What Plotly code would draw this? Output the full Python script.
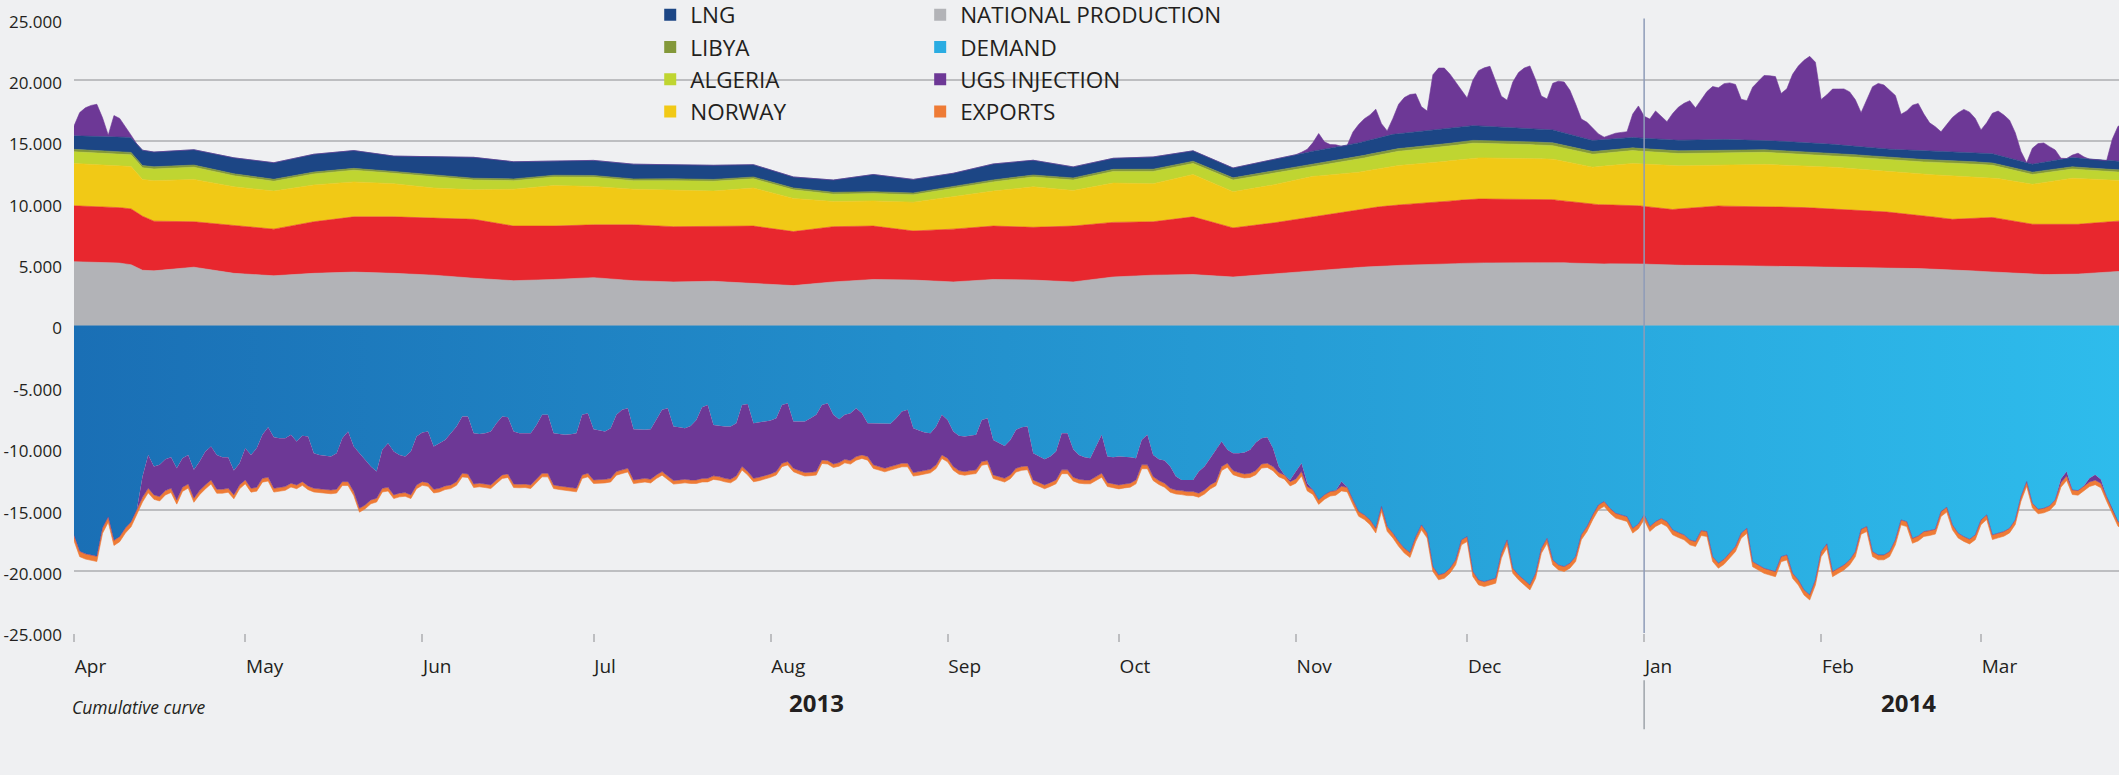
import pandas as pd
import plotly.graph_objects as go

START = pd.Timestamp("2013-04-01")

# ---------------- data ----------------
# smooth supply series, sampled on these days (days since 2013-04-01)
grid_days = [0, 7, 10, 12, 14, 21, 28, 35, 42, 49, 56, 63, 70, 77, 84, 91, 98, 105,
             112, 119, 126, 133, 140, 147, 154, 161, 168, 175, 182, 189, 196, 203,
             210, 217, 224, 231, 238, 245, 252, 259, 266, 273, 280, 287, 294, 301,
             308, 315, 322, 329, 336, 343, 350, 357]

national = [5200, 5150, 4950, 4500, 4450, 4750, 4250, 4050, 4250, 4350, 4250, 4100,
            3850, 3650, 3750, 3900, 3650, 3550, 3600, 3400, 3250, 3550, 3750, 3700,
            3550, 3750, 3700, 3550, 3950, 4100, 4150, 3950, 4200, 4500, 4700, 4900,
            4950, 5100, 5100, 5150, 5000, 5050, 4900, 4900, 4850, 4800, 4750, 4750,
            4650, 4550, 4350, 4150, 4150, 4400]

russia = [4550, 4500, 4550, 4400, 4050, 3700, 3900, 3800, 4200, 4500, 4600, 4650,
          4800, 4450, 4350, 4300, 4550, 4500, 4450, 4700, 4400, 4500, 4350, 4000,
          4300, 4350, 4300, 4550, 4450, 4350, 4700, 4000, 4150, 4350, 4700, 4900,
          5050, 5200, 5200, 5100, 4850, 4750, 4550, 4850, 4800, 4850, 4750, 4600,
          4400, 4100, 4450, 4100, 4050, 4100]

norway = [3450, 3400, 3450, 3000, 3300, 3450, 3150, 3100, 3000, 2850, 2700, 2450,
          2400, 3000, 3300, 3130, 2900, 3000, 2900, 3100, 2700, 2050, 2050, 2350,
          2650, 2850, 3300, 2900, 3200, 3100, 3450, 2950, 3100, 3300, 3000, 3200,
          3250, 3350, 3350, 3300, 3050, 3400, 3550, 3300, 3500, 3400, 3400, 3300,
          3300, 3550, 3250, 3250, 3800, 3300]

algeria = [950, 950, 950, 950, 950, 1000, 900, 800, 900, 950, 850, 900,
           800, 700, 700, 750, 700, 750, 800, 750, 700, 600, 600, 600,
           650, 750, 800, 850, 950, 1000, 900, 950, 950, 800, 1050, 1150,
           1200, 1200, 1150, 1100, 1050, 1050, 1000, 1000, 1000, 950, 950, 950,
           1000, 1050, 1000, 800, 750, 700]

libya = [200, 200, 200, 180, 180, 170, 160, 160, 150, 150, 150, 150,
         150, 140, 140, 140, 140, 150, 150, 150, 150, 150, 150, 150,
         150, 160, 160, 170, 170, 180, 180, 180, 190, 200, 210, 220,
         220, 230, 230, 230, 220, 220, 220, 220, 210, 210, 210, 200,
         200, 200, 190, 190, 180, 180]

lng = [1100, 1200, 1200, 1250, 1200, 1250, 1300, 1350, 1450, 1450, 1250, 1500,
       1700, 1400, 1130, 1230, 1200, 1150, 1150, 1000, 900, 1000, 1400, 1100,
       1100, 1300, 1200, 900, 900, 1000, 850, 800, 950, 1050, 1100, 1200,
       1250, 1200, 1100, 1050, 900, 850, 850, 900, 750, 750, 700, 650,
       700, 700, 750, 650, 750, 700]

exports = [430, 420, 400, 380, 360, 330, 320, 310, 300, 320, 300, 300,
           290, 290, 290, 290, 300, 290, 290, 280, 280, 290, 290, 290,
           300, 300, 310, 310, 320, 320, 330, 330, 340, 360, 380, 390,
           400, 400, 400, 400, 390, 390, 400, 400, 410, 410, 410, 400,
           400, 390, 380, 370, 370, 370]

# daily demand, days 0..359
demand = [
    17100, 18400, 18600, 18700, 18800, 16500, 15600, 17500, 17200, 16500,
    16000, 15000, 12300, 10540, 11490, 11350, 10890, 10730, 11630, 10810,
    10540, 11760, 11080, 10270, 9860, 10540, 10730, 10730, 11820, 11220,
    10000, 10540, 10000, 8910, 8290, 9100, 9180, 9180, 8910, 9450,
    8990, 9050, 10410, 10540, 10620, 10670, 10410, 9180, 8640, 9860,
    10410, 10950, 11490, 11900, 10130, 9590, 10270, 10540, 10670, 10270,
    9050, 8720, 8640, 9860, 9590, 9320, 8780, 8230, 7420, 7420,
    8780, 8830, 8780, 8640, 7960, 7420, 7470, 8640, 8780, 8780,
    8780, 8100, 7280, 7280, 8780, 8830, 8910, 8860, 8780, 7280,
    7150, 8450, 8550, 8640, 8370, 7280, 6870, 6740, 8450, 8500,
    8500, 8450, 7690, 6870, 6740, 8230, 8290, 8370, 8180, 7690,
    6660, 6470, 8100, 8180, 8230, 8230, 7960, 6470, 6390, 7960,
    7910, 7820, 7740, 7550, 6470, 6330, 7820, 7820, 7820, 7550,
    7280, 6470, 6330, 7280, 7630, 7280, 7150, 6740, 7150, 7960,
    7960, 7960, 7960, 8010, 7550, 7010, 6870, 8370, 8560, 8720,
    8780, 8230, 7280, 7690, 8640, 8990, 9050, 8990, 8910, 7690,
    7550, 9320, 9590, 9810, 9320, 8500, 8290, 8230, 10410, 10680,
    10900, 10680, 10270, 8780, 8780, 10080, 10540, 10730, 10810, 9860,
    8910, 10680, 10730, 10680, 10680, 10730, 10810, 9320, 8910, 10540,
    10900, 11000, 11490, 12310, 12580, 12580, 12580, 11900, 11490, 10810,
    10130, 9450, 10130, 10410, 10410, 10350, 10130, 9530, 9180, 9100,
    10000, 11490, 12170, 12580, 11900, 11220, 12850, 13400, 14210, 13800,
    13530, 13450, 12700, 13180, 14210, 15160, 15430, 15840, 16520, 14750,
    16380, 16920, 17600, 18150, 18500, 17200, 16250, 16920, 19640, 20320,
    20190, 19780, 19100, 17470, 17200, 20050, 20730, 20870, 20730, 20590,
    18560, 17470, 19780, 20320, 20730, 21140, 20190, 18150, 17340, 19100,
    19510, 19640, 19370, 18830, 17060, 16380, 15430, 14620, 14340, 14890,
    15300, 15430, 15570, 16520, 16170, 15430, 16380, 15980, 15730, 15980,
    16650, 16870, 17060, 17470, 17600, 16710, 16790, 18830, 19370, 19050,
    18560, 18010, 16920, 16520, 19240, 19510, 19780, 19920, 20050, 18830,
    18690, 20190, 20730, 21540, 21950, 20730, 18420, 17790, 20050, 19780,
    19510, 19100, 18420, 16600, 16380, 18420, 18690, 18690, 18420, 17470,
    15840, 15980, 17340, 17150, 16790, 16710, 16600, 15160, 14810, 16250,
    16920, 17200, 17410, 17060, 15840, 15430, 17060, 16920, 16790, 16520,
    15840, 13940, 12720, 14480, 14970, 14890, 14700, 14210, 12500, 11900,
    13400, 13450, 13070, 12450, 12150, 12550, 13940, 15030, 15980, 16250,
]
demand_days = list(range(0, 360))

# UGS injection: days 0..224 and 340..359
injection_days = list(range(0, 225)) + list(range(340, 360))
injection = [
    0, 0, 0, 0, 0, 0, 0, 0, 0, 0,
    0, 0, 1700, 2720, 2310, 2590, 2560, 2530, 2580, 2370,
    2370, 2310, 2370, 2720, 2720, 2800, 2610, 2530, 1980, 1770,
    2580, 2720, 3180, 3540, 4070, 4160, 4000, 3940, 3940, 3540,
    3730, 4020, 2850, 2770, 2720, 2730, 2930, 3540, 4080, 3670,
    4480, 3670, 2720, 2170, 3130, 3590, 3530, 3120, 2940, 3530,
    3940, 4000, 4160, 3480, 3670, 3750, 4210, 4490, 4620, 4670,
    4130, 4020, 4130, 4350, 4620, 4750, 4620, 4270, 4150, 4130,
    4210, 4430, 4760, 4760, 4210, 4240, 4210, 4320, 4480, 4890,
    4890, 4130, 4030, 3890, 4080, 4620, 4890, 4890, 4130, 4030,
    3950, 4080, 4480, 5030, 5500, 4400, 4290, 4160, 4400, 4890,
    5800, 5980, 4150, 4130, 4220, 4300, 4290, 5020, 5510, 4490,
    4450, 4430, 4350, 4350, 4750, 4750, 3810, 4000, 4160, 4400,
    4620, 4480, 4670, 4000, 3540, 3620, 3850, 3940, 3390, 2720,
    3390, 3530, 3670, 3480, 3800, 4210, 4350, 3610, 3340, 3100,
    2930, 3120, 3260, 3120, 2850, 2830, 2850, 2830, 2850, 3390,
    3450, 2850, 2720, 2640, 2850, 3130, 3200, 3210, 2170, 2120,
    2090, 2120, 2310, 2980, 2980, 2280, 1990, 1850, 1770, 2450,
    3130, 2120, 2180, 2310, 2230, 2120, 1770, 2030, 2440, 1770,
    1730, 1850, 1770, 1090, 870, 950, 950, 1760, 1910, 2180,
    2590, 2040, 1090, 1410, 1570, 1740, 1910, 2290, 2100, 2120,
    1490, 490, 0, 140, 600, 680, 270, 0, 0, 0,
    0, 0, 400, 0, 0,
    0, 0, 0, 0, 0, 0, 0, 0, 300, 350,
    0, 0, 0, 300, 450, 300, 0, 0, 0, 0,
]

# UGS withdrawal (top purple): days 0..12 and 213..359
withdrawal_days = list(range(0, 13)) + list(range(213, 360))
withdrawal = [
    800, 1900, 2300, 2500, 2600, 1500, 100, 1700, 1500, 800, 200, 0, 0,
    0, 0, 100, 250, 700, 1360, 600, 300, 200, 0,
    0, 1000, 1500, 1850, 2050, 2400, 1100, 400, 1300, 2400,
    2900, 3100, 3100, 2000, 1600, 4500, 5000, 4950, 4400, 3700,
    2900, 2300, 3700, 4500, 4750, 4900, 3700, 2500, 2200, 3700,
    4500, 4900, 5100, 4000, 2700, 2500, 3800, 4100, 4150, 3600,
    2600, 1500, 1360, 1000, 500, 200, 300, 450, 480, 500,
    1900, 2600, 1800, 1600, 2300, 1900, 1500, 2200, 2700, 3000,
    3200, 2600, 3200, 3900, 4300, 4200, 4550, 4620, 4500, 3300,
    3200, 4300, 4800, 5300, 5300, 5250, 3900, 4300, 5500, 6200,
    6700, 7050, 6600, 3600, 4000, 4500, 4550, 4600, 4400, 3800,
    2800, 3900, 5000, 5300, 5200, 4800, 4400, 2900, 3200, 3700,
    3850, 3000, 2300, 2000, 1600, 2200, 2800, 3200, 3500, 3300,
    2800, 1900, 2500, 3300, 3600, 3400, 3100, 2200, 800, 0,
    1300, 1600, 1580, 1200, 850, 100, 0, 200, 400, 150,
    0, 0, 0, 0, 1800, 2850, 3000,
]

assert len(national) == len(russia) == len(norway) == len(algeria) == len(grid_days)
assert len(libya) == len(lng) == len(exports) == len(grid_days)
assert len(demand) == len(demand_days)
assert len(injection) == len(injection_days)
assert len(withdrawal) == len(withdrawal_days)

y_tickvals = [25000, 20000, 15000, 10000, 5000, 0, -5000, -10000, -15000, -20000, -25000]
y_ticktext = ["25.000", "20.000", "15.000", "10.000", "5.000", "0",
              "-5.000", "-10.000", "-15.000", "-20.000", "-25.000"]

# ---------------- styling ----------------
BG = "#eff0f2"
GRID = "#bdbec1"
TXT = "#231f20"
FONT = "Open Sans"

C_LNG = "#1c4685"
C_LIBYA = "#83983a"
C_ALGERIA = "#bfd531"
C_NORWAY = "#f1c916"
C_RUSSIA = "#e8272e"
C_NAT = "#b2b3b7"
C_DEMAND = "#2aace2"
C_UGS = "#6d3896"
C_EXP = "#ee7b36"


def to_dates(days):
    return [START + pd.Timedelta(days=int(d)) for d in days]


gx = to_dates(grid_days)
fig = go.Figure()


def area(x, y, color, name, group, first=False, grad=None):
    kw = dict(x=x, y=y, name=name, mode="lines", stackgroup=group,
              line=dict(width=0.6, color=color), fillcolor=color,
              showlegend=False, hoverinfo="skip")
    if first:
        kw["stackgaps"] = "interpolate"
    if grad is not None:
        kw["fillgradient"] = grad
        kw["line"] = dict(width=0, color=color)
    fig.add_trace(go.Scatter(**kw))


# positive stack
area(gx, national, C_NAT, "NATIONAL PRODUCTION", "pos", first=True)
area(gx, russia, C_RUSSIA, "RUSSIA", "pos")
area(gx, norway, C_NORWAY, "NORWAY", "pos")
area(gx, algeria, C_ALGERIA, "ALGERIA", "pos")
area(gx, libya, C_LIBYA, "LIBYA", "pos")
area(gx, lng, C_LNG, "LNG", "pos")
area(to_dates(withdrawal_days), withdrawal, C_UGS, "UGS WITHDRAWAL", "pos")

# negative stack
area(to_dates(demand_days), [-v for v in demand], C_DEMAND, "DEMAND", "neg", first=True,
     grad=dict(type="horizontal", colorscale=[[0, "#1a6fb5"], [1, "#2ebcec"]]))
area(to_dates(injection_days), [-v for v in injection], C_UGS, "UGS INJECTION", "neg")
area(gx, [-v for v in exports], C_EXP, "EXPORTS", "neg")

# legend-only square swatches
legend_items = [
    ("LNG", C_LNG, "legend"), ("LIBYA", C_LIBYA, "legend"),
    ("ALGERIA", C_ALGERIA, "legend"), ("NORWAY", C_NORWAY, "legend"),
    ("NATIONAL PRODUCTION", C_NAT, "legend2"), ("DEMAND", C_DEMAND, "legend2"),
    ("UGS INJECTION", C_UGS, "legend2"), ("EXPORTS", C_EXP, "legend2"),
]
for name, col, lg in legend_items:
    fig.add_trace(go.Scatter(x=[None], y=[None], mode="markers", name=name,
                             marker=dict(symbol="square", size=14, color=col),
                             legend=lg, showlegend=True, hoverinfo="skip"))

# ---------------- layout ----------------
W, H = 2119, 775
ML, MT = 73.7, 18.4
PLOT_H = 614.5
MB = H - MT - PLOT_H
x_start = START
x_end = START + pd.Timedelta(hours=358.17 * 24)
y_rng = [-25050, 25050]

jan = pd.Timestamp("2014-01-01")


def px_to_paper_x(px):
    return (px - ML) / (W - ML)


def px_to_paper_y(py):
    return (MT + PLOT_H - py) / PLOT_H


legend_font = dict(family=FONT, size=22.5, color=TXT)

fig.update_layout(
    width=W, height=H,
    margin=dict(l=ML, r=0, t=MT, b=MB, pad=0, autoexpand=False),
    paper_bgcolor=BG, plot_bgcolor=BG,
    font=dict(family=FONT, color=TXT),
    showlegend=True,
    legend=dict(x=px_to_paper_x(650), y=px_to_paper_y(-6), xanchor="left", yanchor="top",
                orientation="v", font=legend_font, bgcolor="rgba(0,0,0,0)",
                itemsizing="constant", tracegroupgap=0, traceorder="normal"),
    legend2=dict(x=px_to_paper_x(920), y=px_to_paper_y(-6), xanchor="left", yanchor="top",
                 orientation="v", font=legend_font, bgcolor="rgba(0,0,0,0)",
                 itemsizing="constant", tracegroupgap=0, traceorder="normal"),
    xaxis=dict(
        type="date", range=[x_start, x_end], automargin=False,
        showgrid=False, zeroline=False, showline=False,
        ticks="outside", ticklen=8, tickwidth=1.5, tickcolor=GRID,
        tick0="2013-04-01", dtick="M1", tickformat="%b",
        ticklabelmode="instant", ticklabelposition="outside right",
        tickfont=dict(family=FONT, size=19, color=TXT),
        ticklabelstandoff=16,
    ),
    yaxis=dict(
        range=y_rng, tickmode="array", tickvals=y_tickvals, ticktext=y_ticktext,
        automargin=False,
        showgrid=True, gridcolor=GRID, gridwidth=2,
        zeroline=True, zerolinecolor=GRID, zerolinewidth=2,
        showline=False, ticks="",
        tickfont=dict(family=FONT, size=17, color=TXT),
        ticklabelstandoff=11, ticklabelshift=3,
    ),
    shapes=[
        # background patch hiding gridlines behind the legend
        dict(type="rect", xref="paper", yref="y",
             x0=px_to_paper_x(619), x1=px_to_paper_x(1258), y0=17000, y1=25300,
             fillcolor=BG, line=dict(width=0), layer="between"),
        # Jan 2014 separator in plot
        dict(type="line", xref="x", yref="y", x0=jan, x1=jan, y0=-25050, y1=25000,
             line=dict(color="#8e9bb8", width=1.5), layer="above"),
        # separator between the year labels
        dict(type="line", xref="x", yref="paper", x0=jan, x1=jan,
             y0=px_to_paper_y(680), y1=px_to_paper_y(729),
             line=dict(color="#9ea3aa", width=1.5), layer="above"),
    ],
    annotations=[
        dict(text="<b>2013</b>", xref="paper", yref="paper",
             x=px_to_paper_x(816.5), y=px_to_paper_y(702.5), xanchor="center", yanchor="middle",
             showarrow=False, font=dict(family=FONT, size=24, color=TXT)),
        dict(text="<b>2014</b>", xref="paper", yref="paper",
             x=px_to_paper_x(1908), y=px_to_paper_y(702.5), xanchor="center", yanchor="middle",
             showarrow=False, font=dict(family=FONT, size=24, color=TXT)),
        dict(text="<i>Cumulative curve</i>", xref="paper", yref="paper",
             x=px_to_paper_x(70), y=px_to_paper_y(706.5), xanchor="left", yanchor="middle",
             showarrow=False, font=dict(family=FONT, size=17.5, color=TXT)),
    ],
)

# the page's default body margin would offset the figure by 8px; remove it
fig.write_html(
    "out.html",
    config={"displayModeBar": False},
    post_script="document.body.style.margin='0';document.body.style.background='#eff0f2';",
)
